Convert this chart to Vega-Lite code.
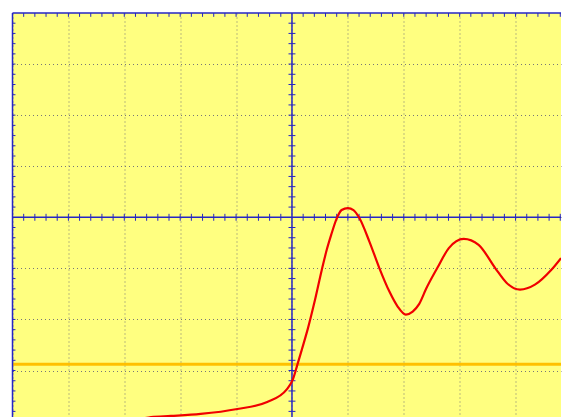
{
  "$schema": "https://vega.github.io/schema/vega-lite/v6.json",
  "autosize": {"type": "fit", "contains": "padding"},
  "width": 563,
  "height": 418,
  "padding": {"left": 10.5, "top": 12, "right": 0, "bottom": 0},
  "background": "white",
  "config": {
    "view": {"fill": "#FFFF80", "stroke": null},
    "axis": {"minExtent": 0, "maxExtent": 0}
  },
  "datasets": {
    "trace": [
      {"t": -2.70, "v": -3.95},
      {"t": -2.52, "v": -3.91},
      {"t": -2.167, "v": -3.889},
      {"t": -1.634, "v": -3.850},
      {"t": -0.977, "v": -3.753},
      {"t": -0.444, "v": -3.616},
      {"t": -0.089, "v": -3.363},
      {"t": 0.018, "v": -3.168},
      {"t": 0.089, "v": -2.915},
      {"t": 0.178, "v": -2.584},
      {"t": 0.284, "v": -2.18},
      {"t": 0.409, "v": -1.63},
      {"t": 0.533, "v": -1.03},
      {"t": 0.622, "v": -0.637},
      {"t": 0.70, "v": -0.35},
      {"t": 0.794, "v": -0.04},
      {"t": 0.888, "v": 0.142},
      {"t": 1.0, "v": 0.180},
      {"t": 1.101, "v": 0.142},
      {"t": 1.208, "v": -0.019},
      {"t": 1.385, "v": -0.475},
      {"t": 1.563, "v": -0.994},
      {"t": 1.741, "v": -1.449},
      {"t": 1.888, "v": -1.742},
      {"t": 2.037, "v": -1.904},
      {"t": 2.160, "v": -1.845},
      {"t": 2.274, "v": -1.700},
      {"t": 2.400, "v": -1.400},
      {"t": 2.599, "v": -0.994},
      {"t": 2.806, "v": -0.604},
      {"t": 3.073, "v": -0.423},
      {"t": 3.339, "v": -0.540},
      {"t": 3.636, "v": -0.994},
      {"t": 3.842, "v": -1.286},
      {"t": 4.080, "v": -1.416},
      {"t": 4.346, "v": -1.319},
      {"t": 4.641, "v": -1.027},
      {"t": 4.813, "v": -0.799}
    ],
    "xticks": [
      {"p": -4.8}, {"p": -4.6}, {"p": -4.4}, {"p": -4.2}, {"p": -4}, {"p": -3.8}, {"p": -3.6}, {"p": -3.4}, {"p": -3.2}, {"p": -3},
      {"p": -2.8}, {"p": -2.6}, {"p": -2.4}, {"p": -2.2}, {"p": -2}, {"p": -1.8}, {"p": -1.6}, {"p": -1.4}, {"p": -1.2}, {"p": -1},
      {"p": -0.8}, {"p": -0.6}, {"p": -0.4}, {"p": -0.2}, {"p": 0.2}, {"p": 0.4}, {"p": 0.6}, {"p": 0.8}, {"p": 1}, {"p": 1.2},
      {"p": 1.4}, {"p": 1.6}, {"p": 1.8}, {"p": 2}, {"p": 2.2}, {"p": 2.4}, {"p": 2.6}, {"p": 2.8}, {"p": 3}, {"p": 3.2},
      {"p": 3.4}, {"p": 3.6}, {"p": 3.8}, {"p": 4}, {"p": 4.2}, {"p": 4.4}, {"p": 4.6}, {"p": 4.8}
    ],
    "yticks": [
      {"p": -3.8}, {"p": -3.6}, {"p": -3.4}, {"p": -3.2}, {"p": -3}, {"p": -2.8}, {"p": -2.6}, {"p": -2.4}, {"p": -2.2}, {"p": -2},
      {"p": -1.8}, {"p": -1.6}, {"p": -1.4}, {"p": -1.2}, {"p": -1}, {"p": -0.8}, {"p": -0.6}, {"p": -0.4}, {"p": -0.2},
      {"p": 0.2}, {"p": 0.4}, {"p": 0.6}, {"p": 0.8}, {"p": 1}, {"p": 1.2}, {"p": 1.4}, {"p": 1.6}, {"p": 1.8}, {"p": 2},
      {"p": 2.2}, {"p": 2.4}, {"p": 2.6}, {"p": 2.8}, {"p": 3}, {"p": 3.2}, {"p": 3.4}, {"p": 3.6}, {"p": 3.8}
    ],
    "vlines": [{"p": 0}, {"p": -5}],
    "hlines": [{"p": 0}, {"p": 4}],
    "level": [{"v": -2.877}]
  },
  "layer": [
    {
      "data": {"name": "level"},
      "mark": {"type": "rule", "color": "#FFC000", "strokeWidth": 3},
      "encoding": {
        "y": {"field": "v", "type": "quantitative",
              "scale": {"domain": [-3.91, 4], "nice": false, "zero": false},
              "axis": {"values": [-3, -2, -1, 0, 1, 2, 3], "grid": true, "gridColor": "#777777", "gridDash": [1, 3], "gridWidth": 1,
                       "labels": false, "ticks": false, "domain": false, "title": null}}
      }
    },
    {
      "data": {"name": "vlines"},
      "mark": {"type": "rule", "color": "#2626C4", "strokeWidth": 1.5},
      "encoding": {
        "x": {"field": "p", "type": "quantitative",
              "scale": {"domain": [-5, 4.813], "nice": false, "zero": false},
              "axis": {"values": [-5, -4, -3, -2, -1, 0, 1, 2, 3, 4], "grid": true, "gridColor": "#777777", "gridDash": [1, 3], "gridWidth": 1,
                       "labels": false, "ticks": false, "domain": false, "title": null}}
      }
    },
    {
      "data": {"name": "hlines"},
      "mark": {"type": "rule", "color": "#2626C4", "strokeWidth": 1.5},
      "encoding": {"y": {"field": "p", "type": "quantitative"}}
    },
    {
      "data": {"name": "xticks"},
      "mark": {"type": "rule", "color": "#2626C4", "strokeWidth": 1},
      "encoding": {"x": {"field": "p", "type": "quantitative"}, "y": {"datum": 0.068}, "y2": {"datum": -0.068}}
    },
    {
      "data": {"name": "xticks"},
      "mark": {"type": "rule", "color": "#2626C4", "strokeWidth": 1},
      "encoding": {"x": {"field": "p", "type": "quantitative"}, "y": {"datum": 4}, "y2": {"datum": 3.925}}
    },
    {
      "data": {"name": "yticks"},
      "mark": {"type": "rule", "color": "#2626C4", "strokeWidth": 1},
      "encoding": {"y": {"field": "p", "type": "quantitative"}, "x": {"datum": -0.062}, "x2": {"datum": 0.062}}
    },
    {
      "data": {"name": "yticks"},
      "mark": {"type": "rule", "color": "#2626C4", "strokeWidth": 1},
      "encoding": {"y": {"field": "p", "type": "quantitative"}, "x": {"datum": -5}, "x2": {"datum": -4.947}}
    },
    {
      "data": {"name": "trace"},
      "mark": {"type": "line", "color": "#F00000", "strokeWidth": 2.2, "interpolate": "monotone", "clip": true},
      "encoding": {
        "x": {"field": "t", "type": "quantitative"},
        "y": {"field": "v", "type": "quantitative"}
      }
    }
  ]
}
